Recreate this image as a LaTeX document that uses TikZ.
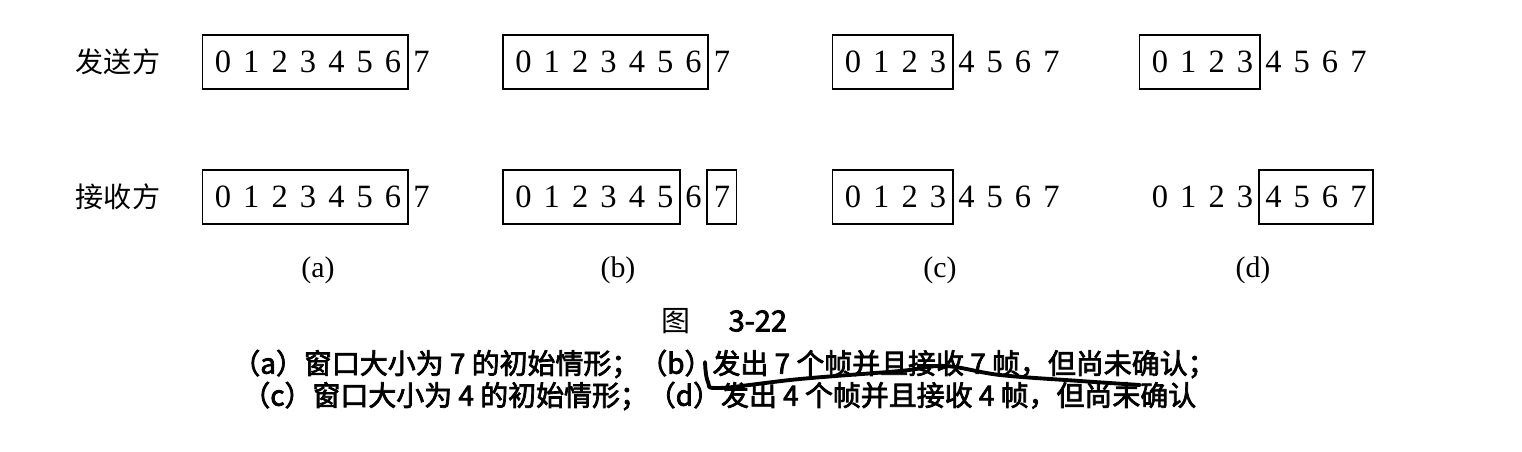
\documentclass[tikz,border=0pt]{standalone}
\usepackage{fontspec}
\setmainfont{Liberation Serif}
\newfontfamily\cjk{Noto Sans CJK SC}
\newfontfamily\cjkcap{Noto Sans CJK SC}[FakeBold=2.6]
\begin{document}
\begin{tikzpicture}[
    digit/.style={minimum width=0.567cm,minimum height=1.06cm,inner sep=0pt,
      font=\fontsize{18.5}{20}\selectfont},
    side/.style={font=\cjk\fontsize{16}{18}\selectfont},
    sub/.style={font=\fontsize{17}{19}\selectfont},
    captext/.style={anchor=west,inner sep=0pt,font=\cjkcap\fontsize{15.9}{18}\selectfont},
    win/.style={line width=1.1pt}]
\useasboundingbox (0,0) rectangle (30.44,9.04);

% sender and receiver
\node[side] (send) at (2.36,7.8) {发送方};
\node[side] (recv) at (2.36,5.1) {接收方};

% sequence numbers 0..7
\foreach \g/\x in {a/4.46,b/10.47,c/17.06,d/23.2}
  \foreach \i in {0,...,7}
  {
    \node[digit] (s\g\i) at ({\x+\i*0.567},7.8) {\i};
    \node[digit] (r\g\i) at ({\x+\i*0.567},5.1) {\i};
  }

% windows
\draw[win] ([xshift=-1.2mm]sa0.south west) rectangle (sa6.north east);
\draw[win] ([xshift=-1.2mm]ra0.south west) rectangle (ra6.north east);

\draw[win] ([xshift=-1.2mm]sb0.south west) rectangle (sb6.north east);
\draw[win] ([xshift=-1.2mm]rb0.south west) rectangle (rb5.north east);
\draw[win] (rb7.south west) rectangle (rb7.north east);

\draw[win] ([xshift=-1.2mm]sc0.south west) rectangle (sc3.north east);
\draw[win] ([xshift=-1.2mm]rc0.south west) rectangle (rc3.north east);

\draw[win] ([xshift=-1.2mm]sd0.south west) rectangle (sd3.north east);
\draw[win] (rd4.south west) rectangle (rd7.north east);

% case labels
\node[sub] (la) at (6.36,3.64) {(a)};
\node[sub] (lb) at (12.36,3.64) {(b)};
\node[sub] (lc) at (18.8,3.64) {(c)};
\node[sub] (ld) at (25.06,3.64) {(d)};

% caption
\node[font=\cjk\fontsize{16.5}{18}\selectfont] (fig) at (14.49,2.62) {图\hspace{1.3em}{\cjkcap 3-22}};
\node[captext] (cap1) at (4.64,1.76) {（a）窗口大小为 7 的初始情形；（b）发出 7 个帧并且接收 7 帧，但尚未确认；};
\node[captext] (cap2) at (4.84,1.12) {（c）窗口大小为 4 的初始情形；（d）发出 4 个帧并且接收 4 帧，但尚未确认};

% pen stroke
\draw[line width=2.2pt,line cap=round] plot[smooth,tension=0.6] coordinates
  {(14.1,1.8) (14.16,1.4) (14.4,1.28) (16.0,1.46) (18.0,1.62) (18.9,1.72) (20.0,1.54) (21.6,1.42) (22.8,1.34)};
\end{tikzpicture}
\end{document}
